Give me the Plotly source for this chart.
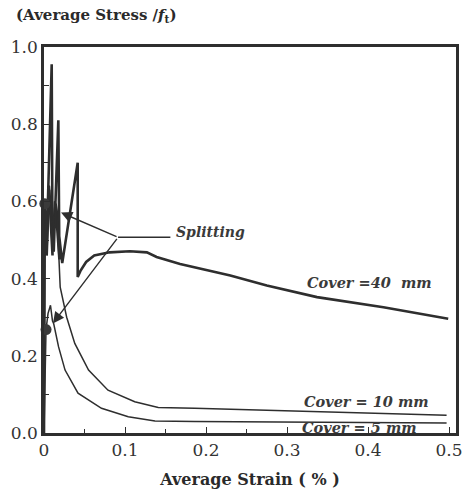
import plotly.graph_objects as go

# ---- data ----
strain_c40 = [0, 0.001, 0.003, 0.0095, 0.0105, 0.006, 0.012, 0.0177, 0.019, 0.014, 0.0225,
              0.0416, 0.0416, 0.045, 0.052, 0.062, 0.081, 0.106, 0.127, 0.139, 0.168,
              0.23, 0.275, 0.337, 0.419, 0.499]
stress_c40 = [0, 0.594, 0.46, 0.955, 0.46, 0.64, 0.47, 0.81, 0.45, 0.60, 0.44,
              0.70, 0.404, 0.420, 0.443, 0.46, 0.468, 0.471, 0.468, 0.456, 0.438,
              0.408, 0.382, 0.352, 0.326, 0.296]

strain_c10 = [0, 0.001, 0.004, 0.007, 0.010, 0.013, 0.016, 0.02, 0.028, 0.038, 0.055, 0.079,
              0.112, 0.141, 0.186, 0.3, 0.497]
stress_c10 = [0, 0.55, 0.46, 0.63, 0.48, 0.60, 0.57, 0.378, 0.30, 0.232, 0.163, 0.111,
              0.081, 0.066, 0.064, 0.057, 0.046]

strain_c5 = [0, 0.0025, 0.005, 0.008, 0.0105, 0.012, 0.018, 0.026, 0.042, 0.071, 0.104,
             0.137, 0.186, 0.3, 0.497]
stress_c5 = [0, 0.268, 0.31, 0.331, 0.29, 0.283, 0.223, 0.163, 0.103, 0.064, 0.042,
             0.031, 0.030, 0.029, 0.026]

dot_strain = [0.001, 0.0025]
dot_stress = [0.594, 0.268]

x_ticks = [0, 0.1, 0.2, 0.3, 0.4, 0.5]
x_tick_labels = ["0", "0.1", "0.2", "0.3", "0.4", "0.5"]
y_ticks = [0.0, 0.2, 0.4, 0.6, 0.8, 1.0]
y_tick_labels = ["0.0", "0.2", "0.4", "0.6", "0.8", "1.0"]

# splitting arrows
split_tail = (0.0914, 0.507)
split_tips = [(0.021, 0.571), (0.011, 0.284)]
split_bar_end = 0.156

labels = [("Cover =40  mm", 0.322, 0.391), ("Cover = 10 mm", 0.3185, 0.081),
          ("Cover = 5 mm", 0.316, 0.014)]

INK = "#2e2e2e"
SERIF = "DejaVu Serif"

fig = go.Figure()
fig.add_trace(go.Scatter(x=strain_c40, y=stress_c40, mode="lines",
                         line=dict(color=INK, width=2.6), showlegend=False))
fig.add_trace(go.Scatter(x=strain_c10, y=stress_c10, mode="lines",
                         line=dict(color=INK, width=1.5), showlegend=False))
fig.add_trace(go.Scatter(x=strain_c5, y=stress_c5, mode="lines",
                         line=dict(color=INK, width=1.5), showlegend=False))
fig.add_trace(go.Scatter(x=dot_strain, y=dot_stress, mode="markers",
                         marker=dict(color="#3a3a3a", size=11), showlegend=False,
                         cliponaxis=False))

for tx, ty in split_tips:
    fig.add_annotation(x=tx, y=ty, ax=split_tail[0], ay=split_tail[1],
                       xref="x", yref="y", axref="x", ayref="y", text="",
                       showarrow=True, arrowhead=2, arrowsize=1.6, arrowwidth=1.4,
                       arrowcolor=INK, standoff=0)
fig.add_shape(type="line", x0=split_tail[0], y0=split_tail[1], x1=split_bar_end,
              y1=split_tail[1], xref="x", yref="y", line=dict(color=INK, width=1.5))
fig.add_annotation(x=split_bar_end + 0.005, y=0.521, xref="x", yref="y",
                   text="<b><i>Splitting</i></b>", showarrow=False, xanchor="left",
                   font=dict(family=SERIF, size=14, color="#3a3a3a"))

for txt, lx, ly in labels:
    fig.add_annotation(x=lx, y=ly, xref="x", yref="y", text="<b><i>" + txt + "</i></b>",
                       showarrow=False, xanchor="left", yanchor="middle",
                       font=dict(family=SERIF, size=14.5, color="#3a3a3a"))

fig.add_annotation(x=-0.072, y=1.082, xref="paper", yref="paper",
                   text="<b>(Average Stress /<i>f</i><sub>t</sub>)</b>", showarrow=False,
                   xanchor="left", yanchor="middle",
                   font=dict(family=SERIF, size=15, color="#2a2a2a"))

fig.update_xaxes(range=[0, 0.5086], tickvals=x_ticks, ticktext=x_tick_labels,
                 ticks="inside", ticklen=6, tickwidth=1, tickcolor=INK,
                 minor=dict(dtick=0.05, ticks="inside", ticklen=4, tickcolor=INK),
                 showline=True, linecolor=INK, linewidth=2.5, mirror=True,
                 showgrid=False, zeroline=False, automargin=False,
                 tickfont=dict(family=SERIF, size=17, color="#333"),
                 title=dict(text="<b>Average Strain ( % )</b>", standoff=15,
                            font=dict(family=SERIF, size=16, color="#2a2a2a")))
fig.update_yaxes(range=[0, 1.0], tickvals=y_ticks, ticktext=y_tick_labels,
                 ticks="inside", ticklen=6, tickwidth=1, tickcolor=INK,
                 minor=dict(dtick=0.1, ticks="inside", ticklen=5, tickcolor=INK),
                 showline=True, linecolor=INK, linewidth=2.5, mirror=True,
                 showgrid=False, zeroline=False, automargin=False,
                 tickfont=dict(family=SERIF, size=17, color="#333"))

fig.update_layout(width=465, height=492, margin=dict(l=44, r=9, t=47, b=59),
                  plot_bgcolor="white", paper_bgcolor="white",
                  font=dict(family=SERIF))

fig.write_html("out.html")
